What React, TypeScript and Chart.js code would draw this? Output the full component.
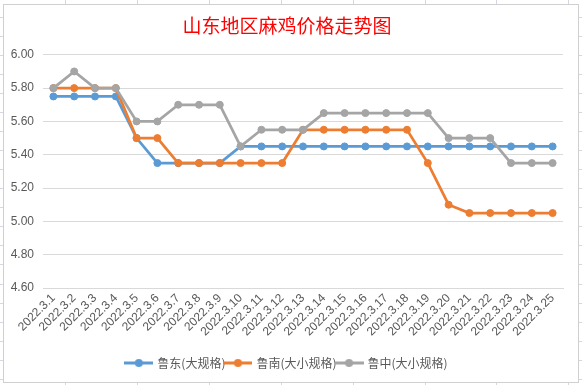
import React, { useEffect, useRef } from "react";
import { Chart, registerables } from "chart.js";

Chart.register(...registerables);

const titleText = "山东地区麻鸡价格走势图";

const categories = [
  "2022.3.1", "2022.3.2", "2022.3.3", "2022.3.4", "2022.3.5",
  "2022.3.6", "2022.3.7", "2022.3.8", "2022.3.9", "2022.3.10",
  "2022.3.11", "2022.3.12", "2022.3.13", "2022.3.14", "2022.3.15",
  "2022.3.16", "2022.3.17", "2022.3.18", "2022.3.19", "2022.3.20",
  "2022.3.21", "2022.3.22", "2022.3.23", "2022.3.24", "2022.3.25",
];

const seriesNames = ["鲁东(大规格)", "鲁南(大小规格)", "鲁中(大小规格)"];

const ludong = [
  5.75, 5.75, 5.75, 5.75, 5.5, 5.35, 5.35, 5.35, 5.35, 5.45,
  5.45, 5.45, 5.45, 5.45, 5.45, 5.45, 5.45, 5.45, 5.45, 5.45,
  5.45, 5.45, 5.45, 5.45, 5.45,
];

const lunan = [
  5.8, 5.8, 5.8, 5.8, 5.5, 5.5, 5.35, 5.35, 5.35, 5.35,
  5.35, 5.35, 5.55, 5.55, 5.55, 5.55, 5.55, 5.55, 5.35, 5.1,
  5.05, 5.05, 5.05, 5.05, 5.05,
];

const luzhong = [
  5.8, 5.9, 5.8, 5.8, 5.6, 5.6, 5.7, 5.7, 5.7, 5.45,
  5.55, 5.55, 5.55, 5.65, 5.65, 5.65, 5.65, 5.65, 5.65, 5.5,
  5.5, 5.5, 5.35, 5.35, 5.35,
];

const yMin = 4.6;
const yMax = 6.0;
const yStep = 0.2;

const colors = ["#5B9BD5", "#ED7D31", "#A5A5A5"];
const textColor = "#595959";
const gridColor = "#D9D9D9";
const latinFont = '"Liberation Sans", "Noto Sans CJK SC", sans-serif';
const cjkFont = '"Noto Sans CJK SC", "Liberation Sans", sans-serif';

function legendIcon(color: string): HTMLCanvasElement {
  const c = document.createElement("canvas");
  c.width = 29;
  c.height = 10;
  const ctx = c.getContext("2d")!;
  ctx.strokeStyle = color;
  ctx.lineWidth = 3;
  ctx.beginPath();
  ctx.moveTo(0, 5);
  ctx.lineTo(29, 5);
  ctx.stroke();
  ctx.fillStyle = color;
  ctx.beginPath();
  ctx.arc(14.5, 5, 4, 0, Math.PI * 2);
  ctx.fill();
  return c;
}

const sheetBackground = {
  id: "sheetBackground",
  beforeDraw(chart: any) {
    const { ctx, width, height } = chart;
    ctx.save();
    ctx.fillStyle = "#FFFFFF";
    ctx.fillRect(0, 0, width, height);
    ctx.strokeStyle = "#D4D8E0";
    ctx.lineWidth = 1;
    // spreadsheet cell lines visible around the chart frame
    for (let k = 0; k < 9; k++) {
      const x = Math.round(65 + k * 71.9) + 0.5;
      ctx.beginPath();
      ctx.moveTo(x, 0);
      ctx.lineTo(x, 4);
      ctx.moveTo(x, 382);
      ctx.lineTo(x, height);
      ctx.stroke();
    }
    for (let k = 0; k < 20; k++) {
      const y = Math.round(16.7 + k * 19.06) + 0.5;
      ctx.beginPath();
      ctx.moveTo(0, y);
      ctx.lineTo(3, y);
      ctx.moveTo(579, y);
      ctx.lineTo(width, y);
      ctx.stroke();
    }
    ctx.strokeStyle = "#D0D0D0";
    ctx.strokeRect(3.5, 4.5, 575, 378);
    ctx.restore();
  },
};

export default function App() {
  const ref = useRef<HTMLCanvasElement | null>(null);

  useEffect(() => {
    document.body.style.margin = "0";
    const canvas = ref.current;
    if (!canvas) return;
    const allSeries = [ludong, lunan, luzhong];
    const chart = new Chart(canvas, {
      type: "line",
      data: {
        labels: categories,
        datasets: allSeries.map((data, i) => ({
          label: seriesNames[i],
          data,
          borderColor: colors[i],
          backgroundColor: colors[i],
          pointBackgroundColor: colors[i],
          pointBorderColor: colors[i],
          borderWidth: 2.75,
          pointRadius: 3.5,
          pointBorderWidth: 1,
          tension: 0,
          fill: false,
          order: 3 - i,
        })),
      },
      options: {
        animation: false,
        responsive: false,
        devicePixelRatio: 1,
        layout: { padding: { left: 11, right: 19, top: 4, bottom: 6 } },
        plugins: {
          title: {
            display: true,
            text: titleText,
            color: "#FF0000",
            font: { family: cjkFont, size: 19, weight: "normal" },
            padding: { top: 10, bottom: 18 },
          },
          legend: {
            display: true,
            position: "bottom",
            labels: {
              usePointStyle: true,
              pointStyleWidth: 25,
              boxHeight: 10,
              padding: 0,
              color: textColor,
              font: { family: cjkFont, size: 12 },
              sort: (a: any, b: any) => a.datasetIndex - b.datasetIndex,
              generateLabels: (ch: any) =>
                ch.data.datasets.map((ds: any, i: number) => ({
                  text: ds.label,
                  fillStyle: colors[i],
                  strokeStyle: colors[i],
                  fontColor: textColor,
                  lineWidth: 0,
                  pointStyle: legendIcon(colors[i]),
                  hidden: !ch.isDatasetVisible(i),
                  datasetIndex: i,
                })),
            },
          },
          tooltip: { enabled: false },
        },
        scales: {
          x: {
            offset: true,
            grid: { display: false, drawTicks: false },
            border: { display: true, color: gridColor, width: 1 },
            afterFit: (scale: any) => {
              scale.height = 69;
            },
            ticks: {
              autoSkip: false,
              minRotation: 45,
              maxRotation: 45,
              padding: 3,
              color: textColor,
              font: { family: latinFont, size: 12 },
            },
          },
          y: {
            min: yMin,
            max: yMax,
            grid: { color: gridColor, drawTicks: false },
            border: { display: false },
            afterFit: (scale: any) => {
              scale.width = 32;
            },
            ticks: {
              stepSize: yStep,
              padding: 9,
              color: textColor,
              font: { family: latinFont, size: 12 },
              callback: (v: any) => Number(v).toFixed(2),
            },
          },
        },
      },
      plugins: [sheetBackground],
    });
    return () => chart.destroy();
  }, []);

  return (
    <div style={{ position: "fixed", left: 0, top: 0, width: 582, height: 385 }}>
      <canvas ref={ref} width={582} height={385} style={{ width: 582, height: 385, display: "block" }} />
    </div>
  );
}
